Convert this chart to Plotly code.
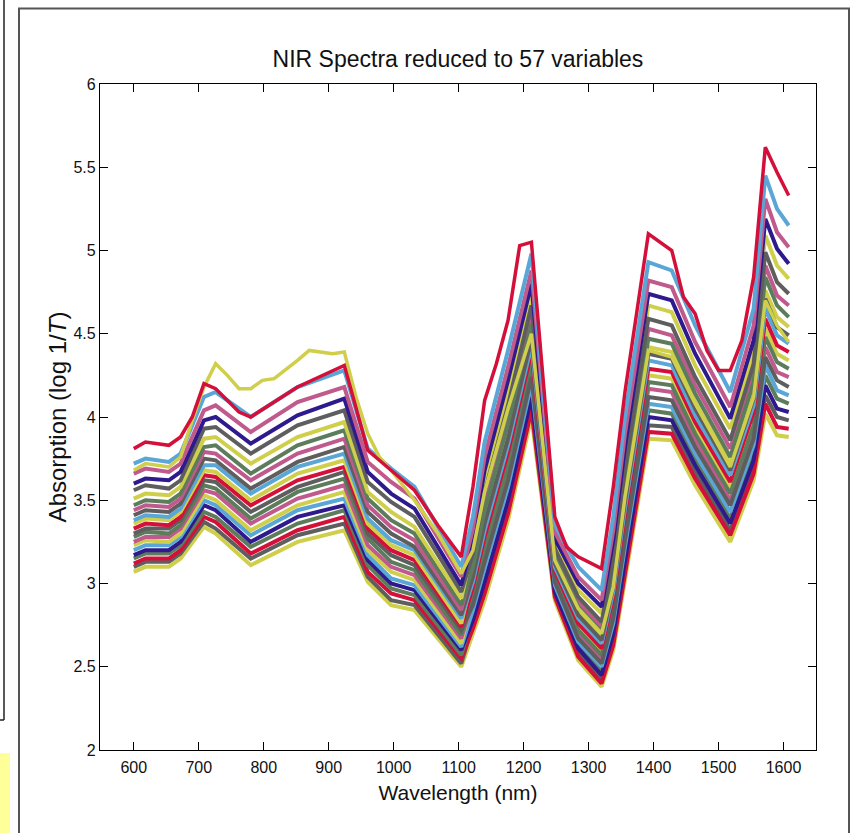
import plotly.graph_objects as go

# ---------------- data ----------------
WAVELENGTHS = [600, 618, 654, 672, 708, 726, 780, 852, 924, 960, 996, 1032, 1104,
               1122, 1140, 1176, 1212, 1248, 1284, 1320, 1338, 1356, 1392, 1428,
               1464, 1518, 1554, 1572, 1590, 1608]

SPECTRA = [
    [3.07, 3.10, 3.10, 3.15, 3.34, 3.30, 3.11, 3.25, 3.32, 3.01, 2.87, 2.84, 2.50,
     2.70, 2.90, 3.38, 4.00, 2.90, 2.54, 2.38, 2.60, 3.02, 3.87, 3.86, 3.59, 3.25, 3.62, 4.02, 3.89, 3.88],
    [3.10, 3.13, 3.13, 3.18, 3.37, 3.33, 3.15, 3.29, 3.36, 3.04, 2.90, 2.87, 2.52,
     2.76, 2.98, 3.46, 4.08, 2.94, 2.58, 2.43, 2.66, 3.10, 3.95, 3.94, 3.67, 3.32, 3.70, 4.13, 4.00, 3.98],
    [3.12, 3.15, 3.15, 3.20, 3.40, 3.37, 3.18, 3.32, 3.40, 3.07, 2.94, 2.90, 2.55,
     2.73, 2.94, 3.42, 4.04, 2.92, 2.56, 2.40, 2.63, 3.06, 3.91, 3.90, 3.63, 3.29, 3.66, 4.08, 3.94, 3.93],
    [3.15, 3.18, 3.18, 3.23, 3.43, 3.40, 3.22, 3.36, 3.44, 3.11, 2.97, 2.93, 2.57,
     2.81, 3.05, 3.54, 4.16, 2.97, 2.63, 2.47, 2.73, 3.18, 4.04, 4.02, 3.74, 3.39, 3.78, 4.25, 4.11, 4.08],
    [3.17, 3.20, 3.20, 3.25, 3.47, 3.44, 3.25, 3.40, 3.47, 3.14, 3.00, 2.96, 2.60,
     2.78, 3.01, 3.50, 4.12, 2.95, 2.61, 2.45, 2.70, 3.14, 4.00, 3.98, 3.71, 3.36, 3.74, 4.19, 4.05, 4.03],
    [3.20, 3.23, 3.23, 3.28, 3.50, 3.47, 3.29, 3.44, 3.51, 3.17, 3.03, 2.99, 2.62,
     2.84, 3.09, 3.58, 4.20, 2.99, 2.65, 2.50, 2.76, 3.22, 4.08, 4.06, 3.78, 3.43, 3.83, 4.31, 4.16, 4.13],
    [3.23, 3.26, 3.25, 3.30, 3.53, 3.50, 3.32, 3.47, 3.55, 3.20, 3.07, 3.02, 2.64,
     2.95, 3.24, 3.75, 4.35, 3.06, 2.74, 2.59, 2.89, 3.37, 4.25, 4.23, 3.94, 3.57, 3.99, 4.53, 4.38, 4.34],
    [3.25, 3.28, 3.28, 3.33, 3.56, 3.54, 3.36, 3.51, 3.59, 3.23, 3.10, 3.05, 2.67,
     2.90, 3.17, 3.67, 4.27, 3.03, 2.70, 2.54, 2.82, 3.29, 4.17, 4.15, 3.86, 3.50, 3.91, 4.42, 4.27, 4.24],
    [3.28, 3.31, 3.30, 3.35, 3.59, 3.57, 3.39, 3.55, 3.63, 3.27, 3.13, 3.08, 2.69,
     2.92, 3.20, 3.71, 4.31, 3.04, 2.72, 2.57, 2.86, 3.33, 4.21, 4.19, 3.90, 3.54, 3.95, 4.48, 4.33, 4.29],
    [3.30, 3.33, 3.33, 3.38, 3.62, 3.61, 3.43, 3.58, 3.67, 3.30, 3.17, 3.11, 2.72,
     2.87, 3.13, 3.62, 4.24, 3.01, 2.67, 2.52, 2.79, 3.26, 4.12, 4.10, 3.82, 3.47, 3.87, 4.36, 4.22, 4.18],
    [3.33, 3.36, 3.35, 3.40, 3.65, 3.64, 3.47, 3.62, 3.70, 3.33, 3.20, 3.14, 2.74,
     2.98, 3.28, 3.79, 4.39, 3.08, 2.76, 2.61, 2.92, 3.41, 4.29, 4.27, 3.97, 3.61, 4.03, 4.59, 4.43, 4.39],
    [3.36, 3.39, 3.38, 3.43, 3.68, 3.67, 3.50, 3.66, 3.74, 3.36, 3.23, 3.17, 2.76,
     3.06, 3.39, 3.91, 4.51, 3.13, 2.83, 2.68, 3.02, 3.53, 4.42, 4.39, 4.09, 3.72, 4.16, 4.76, 4.60, 4.54],
    [3.38, 3.41, 3.40, 3.45, 3.71, 3.71, 3.54, 3.70, 3.78, 3.39, 3.26, 3.20, 2.79,
     3.01, 3.32, 3.83, 4.43, 3.10, 2.79, 2.64, 2.95, 3.45, 4.34, 4.31, 4.01, 3.65, 4.07, 4.65, 4.49, 4.44],
    [3.41, 3.44, 3.43, 3.48, 3.75, 3.74, 3.57, 3.73, 3.82, 3.43, 3.30, 3.22, 2.81,
     3.04, 3.36, 3.87, 4.47, 3.12, 2.81, 2.66, 2.98, 3.49, 4.38, 4.35, 4.05, 3.68, 4.11, 4.71, 4.54, 4.49],
    [3.44, 3.47, 3.46, 3.51, 3.79, 3.78, 3.62, 3.78, 3.87, 3.47, 3.34, 3.26, 2.84,
     3.13, 3.49, 4.01, 4.61, 3.18, 2.89, 2.74, 3.10, 3.63, 4.53, 4.49, 4.19, 3.81, 4.26, 4.91, 4.73, 4.67],
    [3.47, 3.50, 3.49, 3.54, 3.82, 3.83, 3.66, 3.83, 3.92, 3.51, 3.38, 3.30, 2.87,
     3.10, 3.44, 3.96, 4.56, 3.16, 2.86, 2.71, 3.06, 3.58, 4.47, 4.44, 4.14, 3.76, 4.21, 4.84, 4.67, 4.60],
    [3.51, 3.54, 3.53, 3.58, 3.87, 3.88, 3.72, 3.88, 3.97, 3.55, 3.43, 3.34, 2.91,
     3.23, 3.61, 4.15, 4.74, 3.24, 2.96, 2.82, 3.20, 3.76, 4.67, 4.63, 4.31, 3.93, 4.39, 5.09, 4.91, 4.83],
    [3.56, 3.59, 3.57, 3.62, 3.93, 3.94, 3.78, 3.95, 4.04, 3.61, 3.49, 3.40, 2.95,
     3.18, 3.55, 4.07, 4.67, 3.21, 2.92, 2.77, 3.14, 3.69, 4.59, 4.55, 4.24, 3.86, 4.32, 4.99, 4.81, 4.74],
    [3.60, 3.63, 3.62, 3.67, 3.98, 4.00, 3.84, 4.01, 4.11, 3.67, 3.54, 3.45, 2.99,
     3.27, 3.68, 4.22, 4.80, 3.27, 3.00, 2.86, 3.26, 3.82, 4.74, 4.70, 4.38, 3.99, 4.46, 5.19, 5.01, 4.92],
    [3.66, 3.69, 3.67, 3.72, 4.04, 4.07, 3.91, 4.09, 4.18, 3.73, 3.61, 3.51, 3.04,
     3.33, 3.76, 4.30, 4.88, 3.31, 3.04, 2.90, 3.32, 3.90, 4.82, 4.78, 4.45, 4.06, 4.55, 5.31, 5.11, 5.02],
    [3.72, 3.75, 3.73, 3.78, 4.12, 4.15, 4.00, 4.18, 4.28, 3.81, 3.69, 3.58, 3.10,
     3.40, 3.85, 4.40, 4.98, 3.35, 3.10, 2.96, 3.40, 4.00, 4.93, 4.88, 4.55, 4.15, 4.65, 5.45, 5.25, 5.15],
]

SPECTRA_COLORS = ["#CFCF4C", "#5E5E5E", "#D4103A", "#5C7C5C", "#2E1A8C", "#5AA6D6",
                  "#CFCF4C", "#C05A8C", "#5C7C5C", "#5E5E5E", "#D4103A", "#CFCF4C",
                  "#5AA6D6", "#5E5E5E", "#C05A8C", "#5C7C5C", "#CFCF4C", "#5E5E5E",
                  "#2E1A8C", "#C05A8C", "#5AA6D6"]

OUTLIER_YELLOW_WL = [600, 618, 654, 672, 690, 708, 726, 744, 762, 780, 798, 816, 852, 870,
                     906, 924, 942, 960, 978, 996, 1032, 1068, 1104, 1122, 1140, 1176, 1212,
                     1248, 1284, 1320, 1338, 1356, 1392, 1428, 1464, 1518, 1554, 1572, 1590, 1608]
OUTLIER_YELLOW = [3.68, 3.72, 3.70, 3.76, 3.98, 4.18, 4.32, 4.25, 4.17, 4.17, 4.22, 4.23, 4.34, 4.40,
                  4.38, 4.39, 4.12, 3.90, 3.76, 3.68, 3.50, 3.30, 3.06, 3.20, 3.55, 4.05, 4.50,
                  3.14, 2.85, 2.70, 2.98, 3.52, 4.40, 4.36, 4.08, 3.70, 4.12, 4.70, 4.55, 4.45]

TOP_RED_WL = [600, 618, 654, 672, 690, 708, 726, 762, 780, 852, 924, 942, 960, 996, 1032,
              1068, 1104, 1122, 1140, 1158, 1176, 1194, 1212, 1248, 1266, 1284, 1320, 1338,
              1356, 1392, 1428, 1446, 1464, 1482, 1500, 1518, 1536, 1554, 1572, 1590, 1608]
TOP_RED = [3.81, 3.85, 3.83, 3.88, 4.00, 4.20, 4.17, 4.03, 4.00, 4.18, 4.31, 4.05, 3.80, 3.68, 3.56,
           3.35, 3.16, 3.58, 4.10, 4.32, 4.58, 5.03, 5.05, 3.40, 3.22, 3.16, 3.09, 3.58,
           4.15, 5.10, 5.00, 4.72, 4.62, 4.40, 4.28, 4.28, 4.46, 4.84, 5.62, 5.47, 5.33]

X_TICKS = [600, 700, 800, 900, 1000, 1100, 1200, 1300, 1400, 1500, 1600]
Y_TICKS = [2, 2.5, 3, 3.5, 4, 4.5, 5, 5.5, 6]

TITLE = "NIR Spectra reduced to 57 variables"
X_TITLE = "Wavelength (nm)"
Y_TITLE = "Absorption (log 1/<i>T</i>)"

# ---------------- figure ----------------
W, H = 851, 833
ML, MR, MT, MB = 100, 35, 84, 83
PW, PH = W - ML - MR, H - MT - MB
FONT = "Liberation Sans, Arial, Helvetica, sans-serif"


def pxx(x):
    return (x - ML) / PW


def pxy(y):
    return (H - MB - y) / PH


fig = go.Figure()
for vals, col in zip(SPECTRA, SPECTRA_COLORS):
    fig.add_trace(go.Scatter(x=WAVELENGTHS, y=vals, mode="lines",
                             line=dict(color=col, width=4), hoverinfo="skip"))
fig.add_trace(go.Scatter(x=OUTLIER_YELLOW_WL, y=OUTLIER_YELLOW, mode="lines",
                         line=dict(color="#CFCF4C", width=3.5), hoverinfo="skip"))
fig.add_trace(go.Scatter(x=TOP_RED_WL, y=TOP_RED, mode="lines",
                         line=dict(color="#D4103A", width=3.5), hoverinfo="skip"))

axis_common = dict(showgrid=False, zeroline=False, showline=True, linecolor="black",
                   linewidth=1.3, mirror="ticks", ticks="inside", ticklen=8,
                   tickwidth=1.2, tickcolor="black",
                   tickfont=dict(family=FONT, size=16, color="#111"), automargin=False)

fig.update_layout(
    width=W, height=H,
    margin=dict(l=ML, r=MR, t=MT, b=MB),
    paper_bgcolor="white", plot_bgcolor="white",
    showlegend=False,
    title=dict(text=TITLE, x=0.5, xref="paper", y=1 - 59 / H, yref="container",
               xanchor="center", yanchor="middle",
               font=dict(family=FONT, size=23, color="#111")),
    xaxis=dict(range=[548, 1650], tickvals=X_TICKS, ticklabelstandoff=3,
               title=dict(text=X_TITLE, font=dict(family=FONT, size=21, color="#111"), standoff=9),
               **axis_common),
    yaxis=dict(range=[2, 6], tickvals=Y_TICKS, ticktext=[str(v) for v in Y_TICKS],
               title=dict(text=Y_TITLE, font=dict(family=FONT, size=24, color="#111"), standoff=0),
               **axis_common),
    shapes=[
        dict(type="line", xref="paper", yref="paper", x0=pxx(4), x1=pxx(4),
             y0=pxy(-2), y1=pxy(720), line=dict(color="#222", width=1.5)),
        dict(type="line", xref="paper", yref="paper", x0=pxx(-2), x1=pxx(4),
             y0=pxy(720), y1=pxy(720), line=dict(color="#222", width=1.5)),
        dict(type="rect", xref="paper", yref="paper", x0=pxx(19), x1=pxx(849),
             y0=pxy(8.5), y1=pxy(845), line=dict(color="#555", width=2)),
        dict(type="rect", xref="paper", yref="paper", x0=pxx(-2), x1=pxx(10),
             y0=pxy(753), y1=pxy(845), fillcolor="#FFFF99", line=dict(width=0)),
    ],
)

fig.write_html("out.html")
